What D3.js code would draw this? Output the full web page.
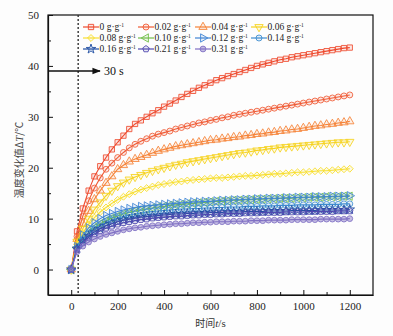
<!DOCTYPE html>
<html>
<head>
<meta charset="utf-8">
<script src="https://cdn.jsdelivr.net/npm/d3@7"></script>
<style>
  body { margin: 0; background: #fdfdfd; }
  svg { display: block; }
</style>
</head>
<body>
<svg id="chart" width="393" height="336"></svg>
<script>
// sample times (s), every 25 s
const times = d3.range(0, 1225, 25);

// temperature rise dT (deg C) for each dosage
const s000 = [0,7.5,12.0,15.5,18.3,20.3,22.0,23.6,25.0,26.3,27.6,28.6,29.3,30.0,30.7,31.3,32.0,32.6,33.2,33.9,34.5,35.1,35.7,36.2,36.7,37.2,37.6,38.0,38.4,38.8,39.2,39.6,40.0,40.3,40.6,40.9,41.2,41.4,41.7,41.9,42.1,42.3,42.5,42.7,42.9,43.1,43.3,43.5,43.6];
const s002 = [0,6.5,10.5,13.5,16.0,18.0,19.7,20.9,22.0,23.0,23.9,24.6,25.2,25.7,26.2,26.6,26.9,27.2,27.6,27.9,28.2,28.5,28.8,29.0,29.3,29.5,29.8,30.0,30.3,30.5,30.7,30.9,31.1,31.3,31.5,31.7,31.9,32.1,32.3,32.5,32.7,32.9,33.1,33.3,33.5,33.7,33.9,34.1,34.3];
const s004 = [0,6.0,9.0,11.5,13.8,15.5,17.0,18.3,19.7,20.5,21.2,21.7,22.1,22.5,22.9,23.3,23.6,23.9,24.2,24.4,24.6,24.8,25.0,25.2,25.4,25.5,25.7,25.8,26.0,26.1,26.3,26.4,26.6,26.7,26.9,27.0,27.2,27.3,27.5,27.6,27.8,28.0,28.2,28.3,28.5,28.6,28.8,28.9,29.1];
const s006 = [0,5.5,8.0,10.0,11.8,13.2,14.5,15.5,16.4,17.1,17.7,18.2,18.6,19.0,19.4,19.7,20.0,20.3,20.6,20.8,21.1,21.3,21.5,21.7,21.9,22.1,22.3,22.5,22.7,22.9,23.0,23.2,23.4,23.5,23.7,23.8,24.0,24.1,24.2,24.3,24.4,24.5,24.6,24.7,24.8,24.9,25.0,25.0,25.1];
const s008 = [0,5.0,7.2,8.8,10.2,11.3,12.2,13.0,13.7,14.3,14.8,15.3,15.7,16.0,16.3,16.6,16.8,17.0,17.2,17.3,17.5,17.6,17.7,17.8,17.9,18.0,18.0,18.1,18.2,18.3,18.4,18.4,18.5,18.6,18.7,18.8,18.8,18.9,19.0,19.1,19.1,19.2,19.3,19.4,19.4,19.5,19.6,19.7,19.8];
const s010 = [0,4.3,6.0,7.2,8.2,9.0,9.6,10.1,10.5,10.9,11.2,11.5,11.7,11.9,12.1,12.3,12.4,12.6,12.7,12.8,12.9,13.0,13.1,13.2,13.3,13.4,13.4,13.5,13.6,13.6,13.7,13.7,13.8,13.8,13.9,13.9,14.0,14.0,14.0,14.1,14.1,14.2,14.2,14.2,14.3,14.3,14.3,14.4,14.4];
const s012 = [0,4.5,6.8,8.2,9.2,10.0,10.6,11.0,11.4,11.7,12.0,12.2,12.4,12.5,12.6,12.7,12.8,12.9,13.0,13.1,13.2,13.3,13.3,13.4,13.4,13.5,13.6,13.6,13.7,13.7,13.8,13.8,13.9,13.9,14.0,14.0,14.0,14.1,14.1,14.2,14.2,14.2,14.3,14.3,14.3,14.4,14.4,14.4,14.5];
const s014 = [0,4.2,5.8,7.0,7.9,8.6,9.2,9.7,10.1,10.4,10.7,10.9,11.1,11.3,11.4,11.5,11.6,11.7,11.8,11.9,11.9,12.0,12.0,12.1,12.1,12.2,12.2,12.3,12.3,12.3,12.4,12.4,12.4,12.5,12.5,12.5,12.6,12.6,12.6,12.7,12.7,12.7,12.7,12.8,12.8,12.8,12.8,12.9,12.9];
const s016 = [0,4.1,5.5,6.6,7.4,8.0,8.6,9.0,9.4,9.7,9.9,10.1,10.3,10.4,10.5,10.6,10.7,10.8,10.9,10.9,11.0,11.0,11.1,11.1,11.2,11.2,11.2,11.3,11.3,11.3,11.4,11.4,11.4,11.4,11.5,11.5,11.5,11.5,11.6,11.6,11.6,11.6,11.6,11.7,11.7,11.7,11.7,11.7,11.8];
const s021 = [0,4.0,5.3,6.3,7.0,7.6,8.1,8.5,8.9,9.2,9.4,9.6,9.8,9.9,10.1,10.2,10.3,10.4,10.5,10.5,10.6,10.7,10.7,10.8,10.8,10.9,10.9,11.0,11.0,11.0,11.1,11.1,11.1,11.2,11.2,11.2,11.2,11.3,11.3,11.3,11.3,11.4,11.4,11.4,11.4,11.4,11.5,11.5,11.5];
const s031 = [0,3.5,4.6,5.4,6.0,6.5,6.9,7.2,7.5,7.8,8.0,8.2,8.3,8.5,8.6,8.7,8.8,8.9,9.0,9.0,9.1,9.2,9.2,9.3,9.3,9.4,9.4,9.4,9.5,9.5,9.5,9.6,9.6,9.6,9.7,9.7,9.7,9.7,9.8,9.8,9.8,9.8,9.8,9.9,9.9,9.9,9.9,9.9,10.0];

const dosages = ["0", "0.02", "0.04", "0.06", "0.08", "0.10", "0.12", "0.14", "0.16", "0.21", "0.31"];
const seriesValues = [s000, s002, s004, s006, s008, s010, s012, s014, s016, s021, s031];
const colors = ["#ee4a2e", "#f05c36", "#f58338", "#f6d21e", "#f8df30", "#72c04a", "#3f84d4", "#3f8ed0", "#1f4ea3", "#5048b0", "#8070c4"];

const xTicks = [0, 200, 400, 600, 800, 1000, 1200];
const yTicks = [0, 10, 20, 30, 40, 50];

// custom marker shapes
const pentagon = {
  draw(ctx, size) {
    const r = Math.sqrt(size / 2.38);
    for (let i = 0; i < 5; i++) {
      const a = -Math.PI / 2 + i * 2 * Math.PI / 5;
      if (i === 0) ctx.moveTo(r * Math.cos(a), r * Math.sin(a));
      else ctx.lineTo(r * Math.cos(a), r * Math.sin(a));
    }
    ctx.closePath();
  }
};
const markers = [
  { type: d3.symbolSquare, size: 28, rot: 0 },
  { type: d3.symbolCircle, size: 28, rot: 0 },
  { type: d3.symbolTriangle, size: 30, rot: 0 },
  { type: d3.symbolTriangle, size: 30, rot: 180 },
  { type: d3.symbolSquare, size: 24, rot: 45 },
  { type: d3.symbolTriangle, size: 30, rot: -90 },
  { type: d3.symbolTriangle, size: 30, rot: 90 },
  { type: d3.symbolCircle, size: 28, rot: 0 },
  { type: d3.symbolStar, size: 28, rot: 0 },
  { type: pentagon, size: 28, rot: 0 },
  { type: d3.symbolCircle, size: 26, rot: 0 }
];

const svg = d3.select("#chart");
const margin = { left: 48, right: 20, top: 15, bottom: 41 };
const width = 393 - margin.left - margin.right;
const height = 336 - margin.top - margin.bottom;

const x = d3.scaleLinear().domain([-100, 1300]).range([margin.left, margin.left + width]);
const y = d3.scaleLinear().domain([-5, 50]).range([margin.top + height, margin.top]);

const serif = "Liberation Serif, DejaVu Serif, serif";
const cjk = "Noto Sans CJK SC, sans-serif";

// frame
svg.append("rect")
  .attr("x", margin.left).attr("y", margin.top)
  .attr("width", width).attr("height", height)
  .attr("fill", "none").attr("stroke", "#111").attr("stroke-width", 1.2);

// axes, ticks pointing inward
svg.append("g")
  .attr("class", "axis")
  .attr("transform", "translate(0," + (margin.top + height) + ")")
  .call(d3.axisBottom(x).tickValues(xTicks).tickFormat(d3.format("d")).tickSizeInner(-5).tickSizeOuter(0).tickPadding(7));
svg.append("g")
  .attr("transform", "translate(0," + (margin.top + height) + ")")
  .call(d3.axisBottom(x).tickValues([100, 300, 500, 700, 900, 1100]).tickSizeInner(-3).tickSizeOuter(0).tickFormat(""))
  .select(".domain").remove();
svg.append("g")
  .attr("class", "axis")
  .attr("transform", "translate(" + margin.left + ",0)")
  .call(d3.axisLeft(y).tickValues(yTicks).tickSizeInner(-5).tickSizeOuter(0).tickPadding(9));
svg.append("g")
  .attr("transform", "translate(" + margin.left + ",0)")
  .call(d3.axisLeft(y).tickValues([5, 15, 25, 35, 45]).tickSizeInner(-3).tickSizeOuter(0).tickFormat(""))
  .select(".domain").remove();

svg.selectAll("g").attr("font-family", serif);
svg.selectAll(".domain").attr("stroke", "#111").attr("stroke-width", 1.2);
svg.selectAll(".tick line").attr("stroke", "#111").attr("stroke-width", 1);
svg.selectAll(".tick text")
  .style("font-family", serif).attr("font-size", 11).attr("fill", "#222");

// dashed line at 30 s
svg.append("line")
  .attr("x1", x(30)).attr("x2", x(30))
  .attr("y1", margin.top).attr("y2", margin.top + height)
  .attr("stroke", "#333").attr("stroke-width", 1.4)
  .attr("stroke-dasharray", "2,2");

// arrow + label
svg.append("defs").append("marker")
  .attr("id", "arrow").attr("viewBox", "0 0 10 10")
  .attr("refX", 9).attr("refY", 5)
  .attr("markerWidth", 6).attr("markerHeight", 6)
  .attr("orient", "auto")
  .append("path").attr("d", "M0,1 L10,5 L0,9 z").attr("fill", "#111");
svg.append("line")
  .attr("x1", margin.left).attr("x2", 100)
  .attr("y1", 71).attr("y2", 71)
  .attr("stroke", "#111").attr("stroke-width", 1.4)
  .attr("marker-end", "url(#arrow)");
svg.append("text")
  .attr("x", 104).attr("y", 75)
  .style("font-family", serif).attr("font-size", 12).attr("fill", "#111")
  .text("30 s");

// curves
const line = d3.line()
  .x((d, i) => x(times[i]))
  .y(d => y(d));

const plot = svg.append("g");
seriesValues.forEach((vals, k) => {
  const g = plot.append("g");
  g.append("path")
    .datum(vals)
    .attr("d", line)
    .attr("fill", "none")
    .attr("stroke", colors[k])
    .attr("stroke-width", 1.1);
  const m = markers[k];
  const sym = d3.symbol().type(m.type).size(m.size);
  g.selectAll("path.pt")
    .data(vals)
    .enter().append("path")
    .attr("class", "pt")
    .attr("d", sym)
    .attr("transform", (d, i) => "translate(" + x(times[i]) + "," + y(d) + ") rotate(" + m.rot + ")")
    .attr("fill", colors[k]).attr("fill-opacity", k === 10 ? 0.45 : 0.12)
    .attr("stroke", colors[k]).attr("stroke-width", 0.85);
});

// legend
const legCols = [83, 138, 195, 251];
const legRows = [27, 38, 49];
dosages.forEach((d, k) => {
  const lx = legCols[k % 4];
  const ly = legRows[Math.floor(k / 4)];
  const g = svg.append("g");
  g.append("line")
    .attr("x1", lx).attr("x2", lx + 16)
    .attr("y1", ly).attr("y2", ly)
    .attr("stroke", colors[k]).attr("stroke-width", 1.2);
  const m = markers[k];
  g.append("path")
    .attr("d", d3.symbol().type(m.type).size(m.size)())
    .attr("transform", "translate(" + (lx + 8) + "," + ly + ") rotate(" + m.rot + ")")
    .attr("fill", colors[k]).attr("fill-opacity", k === 10 ? 0.45 : 0.12)
    .attr("stroke", colors[k]).attr("stroke-width", 0.9);
  const t = g.append("text")
    .attr("x", lx + 16.5).attr("y", ly + 3.2)
    .style("font-family", serif).attr("font-size", 9.5).attr("fill", "#222");
  t.append("tspan").text(d + " g\u00b7g");
  t.append("tspan").attr("dy", -3.5).attr("font-size", 5.5).text("-1");
});

// axis titles
svg.append("text")
  .attr("transform", "translate(23," + (margin.top + height / 2 + 5) + ") rotate(-90)")
  .attr("text-anchor", "middle")
  .style("font-family", cjk).attr("font-size", 10).attr("fill", "#444")
  .call(t => {
    t.append("tspan").text("温度变化值Δ");
    t.append("tspan").style("font-family", serif).attr("font-style", "italic").attr("font-size", 11).text("T");
    t.append("tspan").text("/℃");
  });

svg.append("text")
  .attr("x", margin.left + width / 2).attr("y", 327)
  .attr("text-anchor", "middle")
  .style("font-family", cjk).attr("font-size", 10).attr("fill", "#333")
  .call(t => {
    t.append("tspan").text("时间");
    t.append("tspan").style("font-family", serif).attr("font-style", "italic").attr("font-size", 11).text("t");
    t.append("tspan").style("font-family", serif).attr("font-size", 11).text("/s");
  });
</script>
</body>
</html>
